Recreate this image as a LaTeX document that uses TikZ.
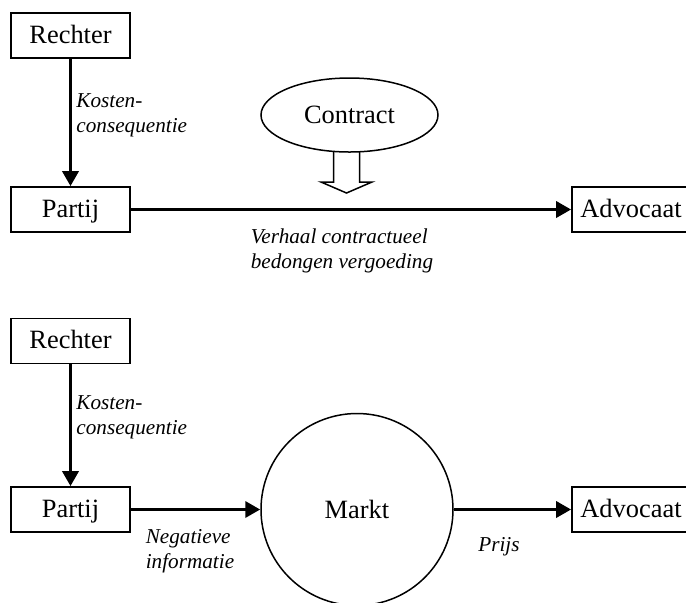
\documentclass[tikz,border=0pt]{standalone}
\usepackage{fontspec}
\setmainfont{Liberation Serif}
\usetikzlibrary{arrows.meta,shapes.geometric}
\begin{document}
\begin{tikzpicture}[x=0.5pt,y=-0.5pt,
  box/.style={draw, line width=0.85pt, minimum width=59.5pt, minimum height=22.5pt, inner sep=0pt, text height=10pt, text depth=2.5pt, font=\fontsize{13.2}{15}\selectfont},
  lbl/.style={font=\fontsize{10.6}{12.6}\selectfont\itshape, align=left, inner sep=0pt},
  conn/.style={line width=1.7pt, -{Triangle[length=7.5pt,width=8pt]}},
  thinline/.style={draw, line width=0.75pt}]
\clip (0,0) rectangle (686,602);
% top diagram
\node[box] (r1) at (70.5,35.5) {Rechter};
\node[box] (p1) at (70.5,209.5) {Partij};
\node[box, minimum width=59pt] (a1) at (631,209.5) {Advocaat};
\node[thinline, ellipse, minimum width=88.5pt, minimum height=37pt, inner sep=0pt, font=\fontsize{13.2}{15}\selectfont] (c) at (349.5,115) {Contract};
\coordinate (ha) at (346.5,152);
\draw[line width=0.75pt] (ha) ++(-13,0) -- ++(0,30) -- ++(-12.5,0) -- ++(25.5,11) -- ++(25.5,-11) -- ++(-12.5,0) -- ++(0,-30);
\draw[conn] (r1) -- (p1);
\draw[conn] (p1) -- (a1);
\node[lbl, anchor=west] (k1) at (76,115) {Kosten-\\consequentie};
\node[lbl] (v1) at (342,251) {Verhaal contractueel\\bedongen vergoeding};
% bottom diagram
\node[box] (r2) at (70.5,341) {Rechter};
\node[box] (p2) at (70.5,509.5) {Partij};
\node[box, minimum width=59pt] (a2) at (631,509.5) {Advocaat};
\node[thinline, circle, minimum size=96pt, inner sep=0pt, font=\fontsize{13.2}{15}\selectfont] (m) at (357,509.5) {Markt};
\draw[conn] (r2) -- (p2);
\draw[conn] (p2) -- (m);
\draw[conn] (m) -- (a2);
\node[lbl, anchor=west] (k2) at (76,417) {Kosten-\\consequentie};
\node[lbl] (n2) at (190,551) {Negatieve\\informatie};
\node[lbl] (pr) at (499,547) {Prijs};
\end{tikzpicture}
\end{document}
